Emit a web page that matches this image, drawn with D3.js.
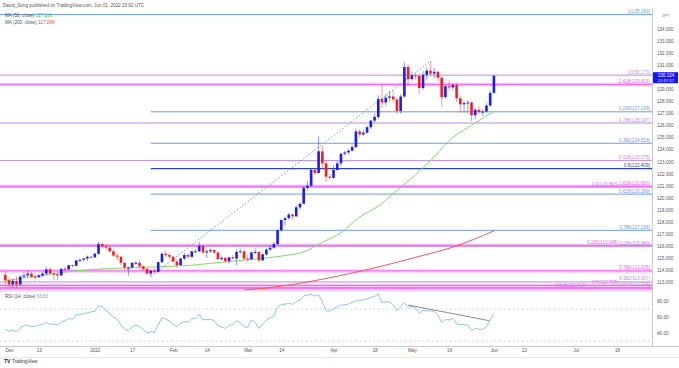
<!DOCTYPE html>
<html><head><meta charset="utf-8">
<script src="https://cdn.jsdelivr.net/npm/d3@7/dist/d3.min.js"></script>
<style>
body{margin:0;background:#fff}
svg{display:block}
text{font-family:"Liberation Sans",Arial,sans-serif}
</style></head>
<body><svg id="chart" width="679" height="368"></svg>
<script>
// ---------- DATA ----------
const startDate = "2021-11-30"; // first bar, weekdays only
const opens  = [113.60,113.15,112.80,113.10,112.80,113.45,113.55,113.70,113.45,113.40,113.55,113.70,114.05,113.70,113.65,113.55,114.10,114.05,114.40,114.35,114.80,114.85,114.95,115.10,115.05,115.35,116.15,115.95,115.85,115.55,115.20,115.10,114.60,114.20,114.20,114.60,114.60,114.30,114.10,113.70,113.95,113.85,114.65,115.35,115.25,115.10,114.70,114.40,114.95,115.25,115.10,115.55,115.55,116.00,115.45,115.55,115.65,115.45,114.90,115.00,114.75,115.05,114.95,115.50,115.55,114.95,114.90,115.45,115.50,114.80,115.30,115.70,115.85,116.15,117.30,118.15,118.30,118.60,118.45,119.20,119.50,120.80,121.00,122.30,122.05,123.85,122.85,121.75,121.65,122.30,122.85,123.65,123.75,123.90,124.20,125.50,125.25,125.40,125.85,126.40,126.70,128.20,127.90,128.30,128.40,128.15,127.20,128.40,130.85,129.85,130.15,130.10,129.10,130.20,130.55,130.30,130.45,129.95,128.35,129.25,129.15,129.35,128.25,127.75,127.85,127.90,126.85,127.30,127.10,127.15,127.65,128.70];
const highs  = [113.90,113.40,113.30,113.45,113.55,113.80,113.95,113.85,113.60,113.70,113.85,114.30,114.25,113.80,113.75,114.15,114.30,114.45,114.45,114.85,114.95,115.00,115.20,115.20,115.45,116.35,116.25,116.15,116.05,115.70,115.40,115.15,114.65,114.30,114.65,114.75,114.80,114.35,114.15,114.00,114.10,114.70,115.45,115.65,115.40,115.20,114.90,115.05,115.40,115.35,115.60,115.75,116.34,116.10,115.75,115.80,115.75,115.55,115.20,115.10,115.10,115.25,115.70,115.80,115.70,115.25,115.55,115.80,115.55,115.40,115.80,116.05,116.35,117.35,118.20,118.45,118.75,118.70,119.40,119.60,120.95,121.40,122.40,122.45,125.10,124.30,123.15,122.00,122.70,123.05,123.70,123.90,124.05,124.40,125.75,125.70,125.60,126.00,126.45,127.00,128.50,129.40,128.60,128.85,128.90,128.30,128.60,131.25,131.10,130.40,130.35,130.25,130.50,130.85,131.35,130.80,130.50,130.10,129.40,129.75,129.50,129.55,128.50,128.00,128.10,128.00,127.45,127.60,127.35,127.85,128.90,130.20];
const lows   = [112.70,112.60,112.55,112.55,112.75,113.35,113.40,113.30,113.10,113.30,113.40,113.55,113.65,113.15,113.15,113.50,113.95,114.00,114.25,114.30,114.65,114.70,114.75,114.95,115.00,115.25,115.80,115.65,115.50,115.05,114.80,114.40,114.00,113.50,114.15,114.40,114.25,113.95,113.60,113.47,113.75,113.80,114.55,115.10,114.90,114.60,114.15,114.35,114.80,114.95,115.00,115.40,115.50,115.30,115.00,115.40,115.35,114.85,114.80,114.55,114.50,114.90,114.40,115.40,114.85,114.65,114.80,115.35,114.65,114.80,115.20,115.55,115.75,116.10,117.20,117.70,118.15,118.20,118.40,119.00,119.45,120.60,120.90,121.90,122.00,122.40,121.30,121.50,121.55,122.25,122.60,123.50,123.60,123.85,124.10,125.05,125.10,125.30,125.70,126.25,126.55,127.45,127.60,128.00,127.95,126.95,127.00,128.30,129.30,129.70,129.80,128.60,128.90,129.80,130.10,129.90,129.65,127.50,128.25,128.80,128.90,127.95,127.05,127.05,127.00,126.36,126.55,126.90,126.80,127.05,127.55,128.60];
const closes = [113.15,112.80,113.10,112.80,113.45,113.55,113.70,113.45,113.40,113.55,113.70,114.05,113.70,113.65,113.55,114.10,114.05,114.40,114.35,114.80,114.85,114.95,115.10,115.05,115.35,116.15,115.95,115.85,115.55,115.20,115.10,114.60,114.20,114.20,114.60,114.60,114.30,114.10,113.70,113.95,113.85,114.65,115.35,115.25,115.10,114.70,114.40,114.95,115.25,115.10,115.55,115.55,116.00,115.45,115.55,115.65,115.45,114.90,115.00,114.75,115.05,114.95,115.50,115.55,114.95,114.90,115.45,115.50,114.80,115.30,115.70,115.85,116.15,117.30,118.15,118.30,118.60,118.45,119.20,119.50,120.80,121.00,122.30,122.05,123.85,122.85,121.75,121.65,122.30,122.85,123.65,123.75,123.90,124.20,125.50,125.25,125.40,125.85,126.40,126.70,128.20,127.90,128.30,128.40,128.15,127.20,128.40,130.85,129.85,130.15,130.10,129.10,130.20,130.55,130.30,130.45,129.95,128.35,129.25,129.15,129.35,128.25,127.75,127.85,127.90,126.85,127.30,127.10,127.15,127.65,128.70,130.12];

// moving averages: [bar index, value]
const ma50Pts  = [[0,113.10],[5,113.35],[10,113.55],[15,113.80],[20,113.95],[25,114.08],[30,114.15],[35,114.20],[40,114.25],[45,114.32],[50,114.40],[55,114.55],[60,114.70],[65,114.85],[70,115.00],[75,115.20],[80,115.50],[85,116.30],[90,117.10],[95,118.40],[100,119.30],[105,120.60],[110,121.90],[115,123.40],[120,125.00],[125,126.00],[131,127.19]];
const ma200Pts = [[64,112.34],[70,112.50],[80,112.95],[90,113.55],[100,114.25],[110,115.05],[120,115.90],[131,117.249]];

const rsi = [44.5,42,43.7,41.8,46,49.5,49.5,48,48.5,50,51,52.9,50.8,51.2,50,54.2,55,58.3,57,62.5,63,64.3,65,66.5,67,74.2,72.9,68.5,64,59.6,57.5,50,45,43,47.9,50,47.9,44.5,40.5,41.6,40.8,50,59.2,57.5,55,51,47.9,52,54.2,53.5,58.3,58.3,63.3,56.3,57,57.2,55.5,49.5,47.5,45.8,49.5,50.5,55.4,53,47.9,47.1,56.25,53.4,45.8,51,56.25,59.5,61.5,72.9,75.8,76,77.1,75.8,79.2,81.25,86.25,87.5,88.3,86.25,88.3,79,67.9,67.5,70.5,72.5,75,75.3,76.25,78.5,80.5,81,81.5,82.5,84.6,85.5,88.75,77.9,79,79,75,67.9,72.9,77.9,72,73.75,70.8,64.6,68.75,67.5,67.9,66.7,63,52.9,57,56.25,58.3,51.25,50.8,50.3,50,42.9,45.8,44.6,44.6,47.9,56,63.83];

// Fibonacci levels
const fibTrend = [[39,113.471],[114,131.347]]; // dotted trend line of the retracement
const fibBlueLabels = ["0.236(127.128)","0.382(124.518)","0.618(120.299)","0.786(117.296)"];
const fibBlueValues = [127.128,124.518,120.299,117.296];
const fibMidLabel = "0.5(122.409)", fibMidValue = 122.409;
const topLabel = "1(135.193)", topValue = 135.193;
const violetLabels = ["1(130.173)","0.786(126.197)","0.618(123.075)","0.5(120.883)","0.236(115.980)","0.382(113.007)","0.618(112.534)"];
const violetValues = [130.173,126.197,123.075,120.883,115.980,113.007,112.534];
const violetLabelShift = [0,0,0,1,0,0,0];   // label column (0 = right end, 1/2 = further left)
const pinkLabels = ["2.618(129.403)","1.618(120.950)","0.236(116.045)","0.786(113.925)","0.5(112.720)","0.618(112.440)"];
const pinkValues = [129.403,120.950,116.045,113.925,112.720,112.440];
const pinkLabelShift = [0,0,1,0,1,2];
const rsiTrend = [[108,75],[129.7,55.4]];

const priceTicks = [113,114,115,116,117,118,119,120,121,122,123,124,125,126,127,128,129,131,132,133,134];
const rsiTicks = [80,60,40];
const timeTickDates = ["2021-12-01","2021-12-13","2022-01-03","2022-01-17","2022-02-01","2022-02-14","2022-03-01","2022-03-14","2022-04-01","2022-04-18","2022-05-02","2022-05-16","2022-06-01","2022-06-13","2022-07-01","2022-07-18"];
const timeTickLabels = ["Dec","13","2022","17","Feb","14","Mar","14","Apr","18","May","16","Jun","13","Jul","18"];
const lastPrice = "130.124", countdown = "21:57:17";
const ma50Last = "127.186", ma200Last = "117.249", rsiLast = "63.83";

// ---------- HELPERS ----------
function weekdayIndex(dstr){
  const s = new Date(startDate+"T00:00:00Z"), e = new Date(dstr+"T00:00:00Z");
  let k = 0;
  for (let d = new Date(s); d < e; d.setUTCDate(d.getUTCDate()+1)) {
    const w = d.getUTCDay(); if (w!==0 && w!==6) k++;
  }
  return k;
}

const svg = d3.select("#chart");
const W = 679, H = 368;
const paneL = 0, paneR = 652;
const priceTop = 8, priceBot = 291, rsiTop = 291, rsiBot = 346;

const n = closes.length;
const x = d3.scaleLinear().domain([0, n-1]).range([5.3, 493.9]);
const y = d3.scaleLinear().domain([113, 134]).range([282.05, 29]);
const yr = d3.scaleLinear().domain([40, 80]).range([333, 301]);

const C_UP = "#1a1aff", C_DN = "#ff1a1a";
const C_BLUE = "#6b9ae8", C_VIO = "#b98ae0", C_PINK = "#f064f0", C_DB = "#2b45b0";
const labelCols = [paneR-2, paneR-34, paneR-66];

svg.append("rect").attr("width",W).attr("height",H).attr("fill","#fff");

svg.append("defs").append("clipPath").attr("id","pclip").append("rect")
  .attr("x",paneL).attr("y",priceTop).attr("width",paneR-paneL).attr("height",priceBot-priceTop);

const gp = svg.append("g").attr("clip-path","url(#pclip)");
const gl = svg.append("g");

function hline(v, color, x0, label, band, col, sw){
  if (band) gp.append("line").attr("x1",x0).attr("x2",paneR).attr("y1",y(v)).attr("y2",y(v))
     .attr("stroke",color).attr("stroke-width",3.5).attr("stroke-opacity",0.35);
  gp.append("line").attr("x1",x0).attr("x2",paneR).attr("y1",y(v)).attr("y2",y(v))
     .attr("stroke",color).attr("stroke-width",sw||1);
  gl.append("text").attr("x",labelCols[col||0]).attr("y",y(v)-1.5).attr("text-anchor","end")
     .attr("font-size",4.6).attr("fill",color).text(label);
}
hline(topValue, C_BLUE, 0, topLabel, false, 0);
violetValues.forEach((v,i)=>hline(v, C_VIO, 0, violetLabels[i], false, violetLabelShift[i]));
pinkValues.forEach((v,i)=>hline(v, C_PINK, 0, pinkLabels[i], true, pinkLabelShift[i]));
const fibX0 = x(fibTrend[0][0]);
fibBlueValues.forEach((v,i)=>hline(v, C_BLUE, fibX0, fibBlueLabels[i], false, 0));
hline(fibMidValue, C_DB, fibX0, fibMidLabel, false, 0, 1.3);

// dotted trend line
gp.append("line").attr("x1",x(fibTrend[0][0])).attr("y1",y(fibTrend[0][1]))
  .attr("x2",x(fibTrend[1][0])).attr("y2",y(fibTrend[1][1]))
  .attr("stroke",C_BLUE).attr("stroke-width",1).attr("stroke-dasharray","1.5,2");

// moving averages
const line = d3.line().x(d=>x(d[0])).y(d=>y(d[1])).curve(d3.curveMonotoneX);
gp.append("path").attr("d",line(ma200Pts)).attr("fill","none").attr("stroke","#f25757").attr("stroke-width",1);
gp.append("path").attr("d",line(ma50Pts)).attr("fill","none").attr("stroke","#7fdc6a").attr("stroke-width",1);

// candles
const bw = 2.6;
const cg = gp.append("g");
for (let i=0;i<n;i++){
  const up = closes[i] >= opens[i];
  const col = up ? C_UP : C_DN;
  cg.append("line").attr("x1",x(i)).attr("x2",x(i)).attr("y1",y(highs[i])).attr("y2",y(lows[i]))
    .attr("stroke",col).attr("stroke-opacity",0.45).attr("stroke-width",1);
  const yt = y(Math.max(opens[i],closes[i])), yb = y(Math.min(opens[i],closes[i]));
  cg.append("rect").attr("x",x(i)-bw/2).attr("y",yt).attr("width",bw).attr("height",Math.max(1,yb-yt)).attr("fill",col);
}

// ---------- RSI pane ----------
svg.append("line").attr("x1",0).attr("x2",paneR).attr("y1",rsiTop).attr("y2",rsiTop).attr("stroke","#d6d6d6").attr("stroke-width",1);
[70,30].forEach(v=>svg.append("line").attr("x1",0).attr("x2",paneR).attr("y1",yr(v)).attr("y2",yr(v))
  .attr("stroke","#c8c8c8").attr("stroke-width",1).attr("stroke-dasharray","1.5,3"));
svg.append("path").attr("d",d3.line().x((d,i)=>x(i)).y(d=>yr(d))(rsi))
  .attr("fill","none").attr("stroke","#8cc4f5").attr("stroke-width",1);
svg.append("line").attr("x1",x(rsiTrend[0][0])).attr("y1",yr(rsiTrend[0][1]))
  .attr("x2",x(rsiTrend[1][0])).attr("y2",yr(rsiTrend[1][1])).attr("stroke","#8a8a8a").attr("stroke-width",1);

// ---------- axes ----------
svg.append("line").attr("x1",paneR+0.5).attr("x2",paneR+0.5).attr("y1",priceTop).attr("y2",rsiBot).attr("stroke","#c9c9c9");
svg.append("line").attr("x1",0).attr("x2",W).attr("y1",rsiBot+0.5).attr("y2",rsiBot+0.5).attr("stroke","#c9c9c9");
svg.append("line").attr("x1",0).attr("x2",W).attr("y1",357.5).attr("y2",357.5).attr("stroke","#e6e6e6");

const ya = svg.append("g").attr("transform",`translate(${paneR},0)`)
  .call(d3.axisRight(y).tickValues(priceTicks).tickFormat(d3.format(".3f")).tickSize(0).tickPadding(5));
ya.select(".domain").remove();
ya.selectAll("text").attr("font-size",4.6).attr("fill","#555").attr("font-family","Liberation Sans,Arial,sans-serif");

const ra = svg.append("g").attr("transform",`translate(${paneR},0)`)
  .call(d3.axisRight(yr).tickValues(rsiTicks).tickFormat(d3.format(".2f")).tickSize(0).tickPadding(5));
ra.select(".domain").remove();
ra.selectAll("text").attr("font-size",4.6).attr("fill","#555").attr("font-family","Liberation Sans,Arial,sans-serif");

const tIdx = timeTickDates.map(weekdayIndex);
const xa = svg.append("g").attr("transform",`translate(0,${rsiBot})`)
  .call(d3.axisBottom(x).tickValues(tIdx).tickFormat((d,i)=>timeTickLabels[i]).tickSize(0).tickPadding(3));
xa.select(".domain").remove();
xa.selectAll("text").attr("font-size",4.6).attr("fill","#555").attr("font-family","Liberation Sans,Arial,sans-serif");

svg.append("text").attr("x",666).attr("y",17).attr("text-anchor","middle").attr("font-size",4.3).attr("fill","#777").text("JPY");

// last price label
const lp = svg.append("g");
lp.append("rect").attr("x",paneR+1).attr("y",y(130.124)-3.5).attr("width",W-paneR-2).attr("height",11).attr("fill","#1414ff");
lp.append("text").attr("x",666).attr("y",y(130.124)+1.2).attr("text-anchor","middle").attr("font-size",4.6).attr("fill","#fff").text(lastPrice);
lp.append("text").attr("x",666).attr("y",y(130.124)+6.4).attr("text-anchor","middle").attr("font-size",4.2).attr("fill","#fff").text(countdown);

// ---------- texts ----------
svg.append("text").attr("x",3).attr("y",7).attr("font-size",4.6).attr("fill","#555")
  .text("David_Song published on TradingView.com, Jun 01, 2022 23:02 UTC");
const l1 = svg.append("text").attr("x",5).attr("y",16.5).attr("font-size",4.6).attr("fill","#555");
l1.append("tspan").text("MA (50, close)  ");
l1.append("tspan").attr("fill","#49c83a").text(ma50Last);
const l2 = svg.append("text").attr("x",5).attr("y",23.5).attr("font-size",4.6).attr("fill","#555");
l2.append("tspan").text("MA (200, close)  ");
l2.append("tspan").attr("fill","#f03c3c").text(ma200Last);
const l3 = svg.append("text").attr("x",5).attr("y",298).attr("font-size",4.6).attr("fill","#555");
l3.append("tspan").text("RSI (14, close)  ");
l3.append("tspan").attr("fill","#5aa8ef").text(rsiLast);

const tv = svg.append("g").attr("transform","translate(4,362.5)");
tv.append("text").attr("x",0).attr("y",0).attr("font-size",5).attr("font-weight","bold").attr("fill","#222").text("TV");
tv.append("text").attr("x",8).attr("y",0).attr("font-size",4.6).attr("fill","#333").text("TradingView");
</script>
</body></html>
